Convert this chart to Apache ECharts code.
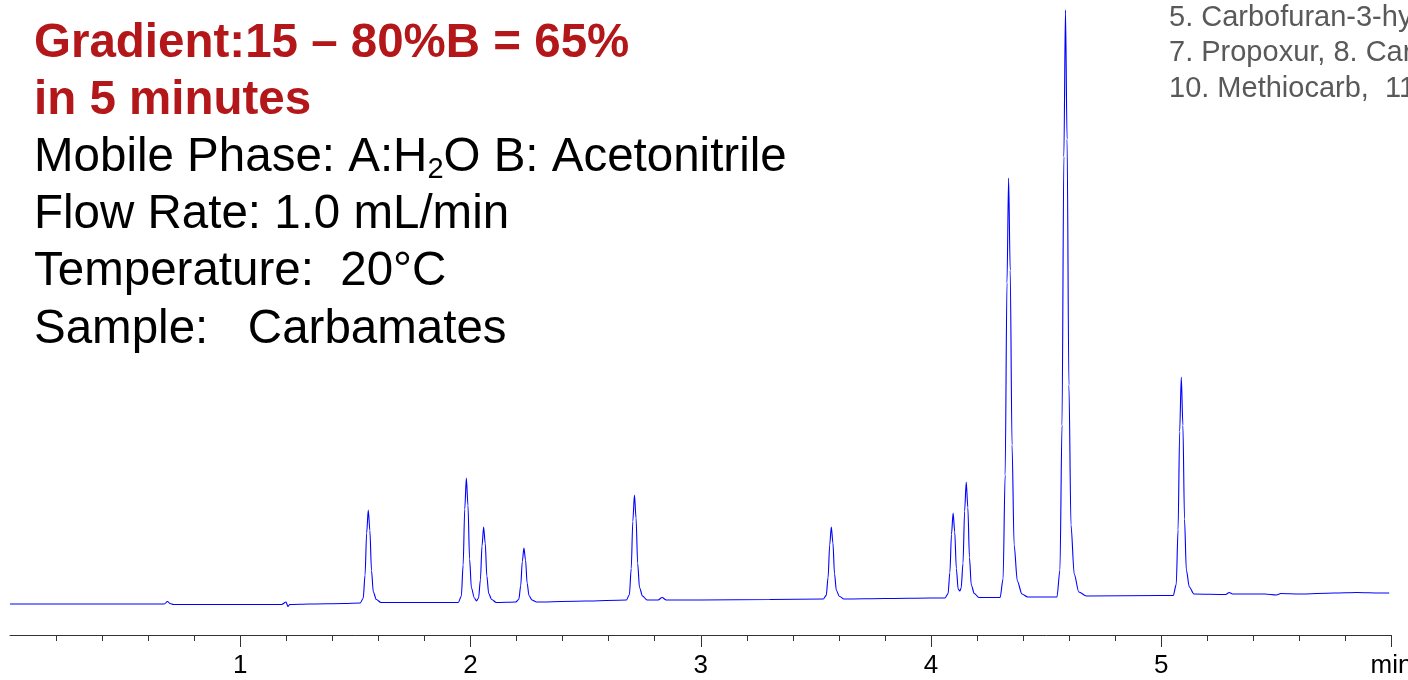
<!DOCTYPE html>
<html>
<head>
<meta charset="utf-8">
<script src="https://cdn.jsdelivr.net/npm/echarts@6/dist/echarts.min.js"></script>
<style>
html,body{margin:0;padding:0;background:#fff;}
#chart{width:1408px;height:680px;}
</style>
</head>
<body>
<div id="chart"></div>
<script>
// Retention time (min) and detector signal (arbitrary units)
const retentionTimes = [
  0.00, 0.30, 0.60, 0.670, 0.684, 0.695, 0.710, 0.90,
  1.18, 1.199, 1.207, 1.215, 1.30, 1.45,
  1.521, 1.534, 1.542, 1.549, 1.556, 1.563, 1.570, 1.578, 1.591, 1.611, 1.80,
  1.947, 1.960, 1.968, 1.975, 1.982, 1.989, 1.996, 2.004, 2.017, 2.026,
  2.035, 2.043, 2.050, 2.057, 2.064, 2.071, 2.079, 2.092, 2.112,
  2.197, 2.210, 2.218, 2.225, 2.232, 2.239, 2.246, 2.254, 2.267, 2.287, 2.50,
  2.677, 2.690, 2.698, 2.705, 2.712, 2.719, 2.726, 2.734, 2.747, 2.767,
  2.815, 2.832, 2.850, 3.00, 3.30,
  3.532, 3.545, 3.553, 3.560, 3.567, 3.574, 3.581, 3.589, 3.602, 3.622, 3.80, 4.00,
  4.061, 4.074, 4.082, 4.089, 4.096, 4.103, 4.110, 4.118, 4.125, 4.131,
  4.139, 4.146, 4.153, 4.160, 4.167, 4.175, 4.188, 4.208,
  4.300, 4.313, 4.322, 4.330, 4.337, 4.344, 4.352, 4.361, 4.375, 4.395, 4.420,
  4.547, 4.560, 4.569, 4.577, 4.584, 4.591, 4.599, 4.608, 4.622, 4.642, 4.675, 5.00,
  5.052, 5.065, 5.073, 5.080, 5.087, 5.094, 5.101, 5.109, 5.122, 5.142,
  5.280, 5.295, 5.310, 5.450, 5.500, 5.520, 5.600, 5.750, 5.850, 5.950, 5.990
];
const signal = [
  1, 1, 1, 1, 3.5, 1.5, 0.5, 0.5,
  0.5, 3, -1.5, 0.5, 1, 1.5,
  2, 6.7, 30, 72, 95, 74.5, 34.5, 13, 5.5, 2.5, 2.5,
  2.5, 8.7, 39.9, 95.9, 127, 99.6, 46.1, 17, 7, 4,
  7, 25.2, 59.1, 78, 61.4, 28.9, 11.5, 5.5, 2.5,
  3, 5.7, 19.2, 43.5, 57, 45.1, 21.9, 9.5, 5, 3, 4,
  5, 10.3, 36.5, 83.8, 110, 86.9, 41.8, 17.5, 9, 5,
  5, 7.5, 5, 5, 5.5,
  6, 9.6, 27.6, 60, 78, 62.2, 31.2, 14.5, 8.8, 6, 6.5, 7,
  7, 11.3, 32.5, 70.8, 92, 73.3, 36.8, 16, 14, 17,
  41.8, 94, 123, 97.5, 47.6, 20, 11.5, 7.5,
  7.5, 26, 130, 322.1, 427, 334.7, 160, 60, 24, 11, 8,
  8, 35, 180, 448.3, 595, 465.9, 220, 80, 31, 13, 9, 9.5,
  9.5, 20.4, 75.1, 173.4, 228, 179.9, 86, 35, 18, 11,
  10.5, 12.5, 11, 11, 10, 11.5, 11, 12, 12.5, 12, 12
];
const xTickValues = [1, 2, 3, 4, 5, 6];
const xTickLabels = ['1', '2', '3', '4', '5', 'min'];

const conditionLinesRed = ['Gradient:15 \u2013 80%B = 65%', 'in 5 minutes'];
const conditionLinesBlack = [
  '{n|Mobile Phase: A:H}{s|2}{n|O B: Acetonitrile}',
  '{n|Flow Rate: 1.0 mL/min}',
  '{n|Temperature:  20\u00b0C}',
  '{n|Sample:   Carbamates}'
];
const peakListLines = ['5. Carbofuran-3-hydroxy', '7. Propoxur, 8. Carbofuran', '10. Methiocarb,  11.'];

const seriesData = retentionTimes.map((t, i) => [t, signal[i]]);

const FONT = '"Liberation Sans", Arial, sans-serif';
const graphics = [];
conditionLinesRed.forEach((s, i) => {
  graphics.push({
    type: 'text', x: 34, y: 43.5 + i * 57.2,
    style: { text: s, fill: '#b3171a', font: 'bold 47.5px ' + FONT, verticalAlign: 'middle' }
  });
});
conditionLinesBlack.forEach((s, i) => {
  graphics.push({
    type: 'text', x: 34, y: 158 + i * 57.2,
    style: {
      text: s, verticalAlign: 'middle',
      rich: {
        n: { fontSize: 47.5, fontFamily: FONT, fill: '#000', lineHeight: 54 },
        s: { fontSize: 29, fontFamily: FONT, fill: '#000', verticalAlign: 'bottom', lineHeight: 54, padding: [0, 0, 1, 0] }
      }
    }
  });
});
peakListLines.forEach((s, i) => {
  graphics.push({
    type: 'text', x: 1169, y: 17.5 + i * 35.5,
    style: { text: s, fill: '#595959', font: '29px ' + FONT, verticalAlign: 'middle' }
  });
});

const chart = echarts.init(document.getElementById('chart'), null, { renderer: 'canvas' });
chart.setOption({
  animation: false,
  backgroundColor: '#ffffff',
  grid: { left: 10, right: 16.5, top: 0, bottom: 45, containLabel: false, outerBoundsMode: 'none' },
  xAxis: {
    type: 'value', min: 0, max: 6, interval: 1,
    axisLine: { show: true, onZero: false, lineStyle: { color: '#333', width: 1 } },
    axisTick: { show: true, length: 12, customValues: xTickValues, lineStyle: { color: '#333' } },
    minorTick: { show: true, splitNumber: 5, length: 6, lineStyle: { color: '#333' } },
    axisLabel: {
      customValues: xTickValues, hideOverlap: false,
      margin: 18, fontSize: 26, color: '#000', fontFamily: FONT,
      formatter: v => { const k = xTickValues.indexOf(v); return k >= 0 ? xTickLabels[k] : ''; }
    },
    splitLine: { show: false }
  },
  yAxis: {
    type: 'value', min: -30, max: 605, show: false, splitLine: { show: false }
  },
  series: [{
    type: 'line', data: seriesData, showSymbol: false, symbol: 'none',
    smooth: 0.3, smoothMonotone: 'x',
    lineStyle: { color: '#0000ff', width: 1.1 }, clip: false
  }],
  graphic: graphics
});
</script>
</body>
</html>
